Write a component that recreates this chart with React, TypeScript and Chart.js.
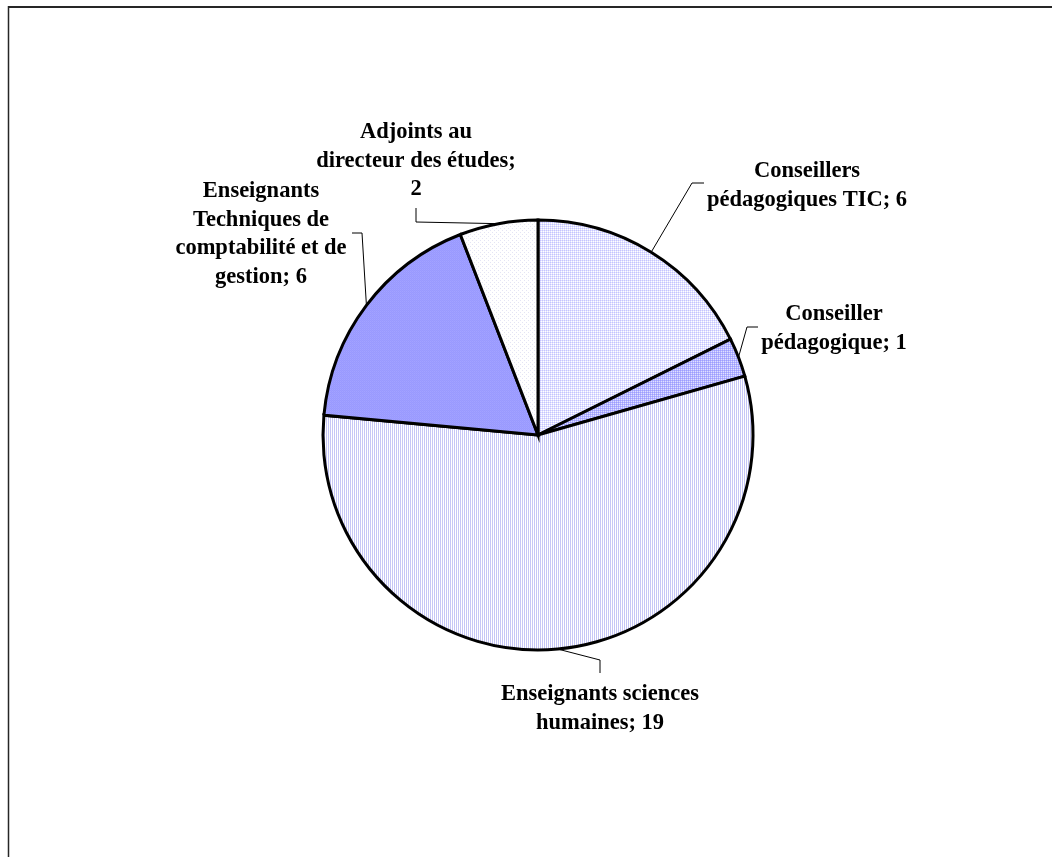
import React, { useEffect, useRef } from "react";
import { Chart, registerables } from "chart.js";

Chart.register(...registerables);

const categories: string[][] = [
  ["Conseillers", "pédagogiques TIC; 6"],
  ["Conseiller", "pédagogique; 1"],
  ["Enseignants sciences", "humaines; 19"],
  ["Enseignants", "Techniques de", "comptabilité et de", "gestion; 6"],
  ["Adjoints au", "directeur des études;", "2"],
];
const names: string[] = [
  "Conseillers pédagogiques TIC",
  "Conseiller pédagogique",
  "Enseignants sciences humaines",
  "Enseignants Techniques de comptabilité et de gestion",
  "Adjoints au directeur des études",
];
const values: number[] = [6, 1, 19, 6, 2];

// label layout (offsets from the pie centre): text centre x, first baseline y, leader elbow, leader end
const labelLayout = [
  { tx: 269, ty: -258, ex: 154, ey: -252, lx: 166, ly: -252 },
  { tx: 296, ty: -115, ex: 209, ey: -108, lx: 220, ly: -108 },
  { tx: 62, ty: 265, ex: 62, ey: 225, lx: 62, ly: 238 },
  { tx: -277, ty: -238, ex: -176, ey: -202, lx: -186, ly: -202 },
  { tx: -122, ty: -297, ex: -122, ey: -213, lx: -122, ly: -227 },
];

function makePattern(size: number, cells: string[][]): CanvasPattern | string {
  const c = document.createElement("canvas");
  c.width = size;
  c.height = size;
  const ctx = c.getContext("2d");
  if (!ctx) return cells[0][0];
  for (let y = 0; y < size; y++) {
    for (let x = 0; x < size; x++) {
      ctx.fillStyle = cells[y % cells.length][x % cells[0].length];
      ctx.fillRect(x, y, 1, 1);
    }
  }
  const p = ctx.createPattern(c, "repeat");
  return p || cells[0][0];
}

export default function App() {
  const ref = useRef<HTMLCanvasElement | null>(null);

  useEffect(() => {
    if (!ref.current) return;
    const fills = [
      makePattern(2, [["#C4C4FF", "#E2E2FF"], ["#E2E2FF", "#FFFFFF"]]),
      makePattern(2, [["#9C9CFF", "#B4B4FF"], ["#B4B4FF", "#E0E0FF"]]),
      makePattern(2, [["#C6C6F6", "#FFFFFF"], ["#C6C6F6", "#FFFFFF"]]),
      makePattern(2, [["#9999FF", "#9E9EFF"], ["#A3A3FF", "#9999FF"]]),
      makePattern(4, [
        ["#E4E4F4", "#FFFFFF", "#FFFFFF", "#FFFFFF"],
        ["#FFFFFF", "#FFFFFF", "#FFFFFF", "#FFFFFF"],
        ["#FFFFFF", "#FFFFFF", "#E4E4F4", "#FFFFFF"],
        ["#FFFFFF", "#FFFFFF", "#FFFFFF", "#FFFFFF"],
      ]),
    ];

    const framePlugin = {
      id: "frame",
      beforeDraw(chart: any) {
        const ctx = chart.ctx;
        ctx.save();
        ctx.fillStyle = "#FFFFFF";
        ctx.fillRect(0, 0, chart.width, chart.height);
        ctx.strokeStyle = "#262626";
        ctx.lineWidth = 2;
        ctx.beginPath();
        ctx.moveTo(8, 7);
        ctx.lineTo(chart.width, 7);
        ctx.stroke();
        ctx.lineWidth = 1.5;
        ctx.beginPath();
        ctx.moveTo(8.5, 6);
        ctx.lineTo(8.5, chart.height);
        ctx.stroke();
        ctx.restore();
      },
    };

    const labelPlugin = {
      id: "pieLabels",
      afterDraw(chart: any) {
        const ctx = chart.ctx;
        const meta = chart.getDatasetMeta(0);
        ctx.save();
        ctx.font = "bold 22.5px 'Liberation Serif', 'Times New Roman', serif";
        ctx.fillStyle = "#000000";
        ctx.textAlign = "center";
        ctx.textBaseline = "alphabetic";
        meta.data.forEach((arc: any, i: number) => {
          const cx = arc.x;
          const cy = arc.y;
          const mid = (arc.startAngle + arc.endAngle) / 2;
          const r = arc.outerRadius;
          const px = cx + Math.cos(mid) * r;
          const py = cy + Math.sin(mid) * r;
          const L = labelLayout[i];
          ctx.strokeStyle = "#000000";
          ctx.lineWidth = 1;
          ctx.beginPath();
          ctx.moveTo(px, py);
          ctx.lineTo(cx + L.ex, cy + L.ey);
          ctx.lineTo(cx + L.lx, cy + L.ly);
          ctx.stroke();
          categories[i].forEach((line, j) => {
            ctx.fillText(line, cx + L.tx, cy + L.ty + j * 28.5);
          });
        });
        ctx.restore();
      },
    };

    const chart = new Chart(ref.current, {
      type: "pie",
      data: {
        labels: names,
        datasets: [
          {
            data: values,
            backgroundColor: fills as any,
            borderColor: "#000000",
            borderWidth: 3,
            borderJoinStyle: "miter",
          } as any,
        ],
      },
      options: {
        responsive: false,
        animation: false,
        layout: {
          padding: { left: 321.5, right: 297.5, top: 218.5, bottom: 205.5 },
        },
        plugins: {
          legend: { display: false },
          tooltip: { enabled: false },
        },
      },
      plugins: [framePlugin, labelPlugin],
    });
    return () => chart.destroy();
  }, []);

  return (
    <div style={{ position: "absolute", left: 0, top: 0, width: 1052, height: 857, background: "#fff" }}>
      <canvas ref={ref} width={1052} height={857} style={{ display: "block", width: 1052, height: 857 }} />
    </div>
  );
}
